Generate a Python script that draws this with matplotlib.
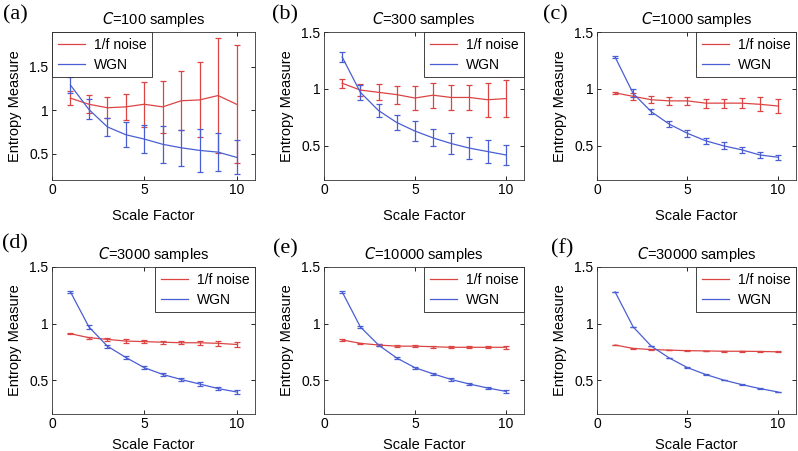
import matplotlib
matplotlib.use("Agg")
import matplotlib.pyplot as plt
import numpy as np

scale = np.arange(1, 11)
panel_labels = ["(a)", "(b)", "(c)", "(d)", "(e)", "(f)"]
sample_sizes = ["100", "300", "1000", "3000", "10000", "30000"]

pink_mean = [
    [1.14, 1.07, 1.03, 1.04, 1.07, 1.04, 1.11, 1.12, 1.17, 1.07],
    [1.05, 0.99, 0.97, 0.95, 0.92, 0.945, 0.925, 0.925, 0.905, 0.915],
    [0.965, 0.935, 0.905, 0.895, 0.895, 0.875, 0.875, 0.875, 0.865, 0.85],
    [0.91, 0.875, 0.86, 0.845, 0.84, 0.835, 0.83, 0.83, 0.825, 0.815],
    [0.855, 0.825, 0.81, 0.80, 0.80, 0.795, 0.79, 0.79, 0.79, 0.79],
    [0.81, 0.78, 0.77, 0.765, 0.76, 0.758, 0.755, 0.755, 0.753, 0.75],
]
pink_err = [
    [0.08, 0.105, 0.12, 0.15, 0.26, 0.30, 0.34, 0.43, 0.66, 0.68],
    [0.04, 0.05, 0.07, 0.08, 0.105, 0.11, 0.11, 0.11, 0.15, 0.16],
    [0.01, 0.03, 0.03, 0.035, 0.035, 0.04, 0.04, 0.045, 0.06, 0.06],
    [0.005, 0.01, 0.012, 0.015, 0.015, 0.015, 0.015, 0.02, 0.02, 0.025],
    [0.005, 0.006, 0.007, 0.008, 0.008, 0.008, 0.009, 0.01, 0.01, 0.012],
    [0.003, 0.003, 0.003, 0.003, 0.003, 0.003, 0.003, 0.003, 0.003, 0.003],
]
wgn_mean = [
    [1.29, 1.01, 0.81, 0.72, 0.67, 0.61, 0.57, 0.54, 0.52, 0.46],
    [1.28, 0.97, 0.81, 0.705, 0.63, 0.57, 0.52, 0.48, 0.45, 0.42],
    [1.28, 0.96, 0.80, 0.69, 0.61, 0.545, 0.50, 0.465, 0.42, 0.40],
    [1.28, 0.97, 0.80, 0.70, 0.61, 0.55, 0.505, 0.465, 0.425, 0.395],
    [1.28, 0.97, 0.81, 0.695, 0.61, 0.555, 0.505, 0.465, 0.43, 0.40],
    [1.28, 0.97, 0.80, 0.695, 0.61, 0.55, 0.50, 0.46, 0.425, 0.395],
]
wgn_err = [
    [0.09, 0.115, 0.105, 0.145, 0.165, 0.21, 0.21, 0.25, 0.215, 0.195],
    [0.04, 0.065, 0.06, 0.07, 0.085, 0.075, 0.095, 0.095, 0.10, 0.085],
    [0.01, 0.035, 0.02, 0.025, 0.03, 0.025, 0.03, 0.025, 0.025, 0.02],
    [0.008, 0.015, 0.012, 0.012, 0.012, 0.015, 0.012, 0.015, 0.015, 0.018],
    [0.006, 0.006, 0.007, 0.008, 0.01, 0.008, 0.01, 0.008, 0.01, 0.01],
    [0.003, 0.003, 0.003, 0.003, 0.003, 0.003, 0.003, 0.003, 0.003, 0.003],
]
series_names = ["1/f noise", "WGN"]
yticks = [0.5, 1, 1.5]
ytick_labels = ["0.5", "1", "1.5"]
xticks = [0, 5, 10]

plt.rcParams["font.family"] = ["Liberation Sans", "DejaVu Sans"]
RED = "#dc4444"
BLUE = "#4a5ed4"

fig = plt.figure(figsize=(7.98, 4.51), dpi=100)
lefts = [52, 324, 597]
widths = [203, 200, 199]
tops = [32, 267]
bottoms = [180, 414]
W, H = 798, 451
label_pos = [(3, 15), (272, 15), (543, 15), (2, 244), (273, 249), (551, 249)]

for i in range(6):
    r, c = divmod(i, 3)
    ax = fig.add_axes([lefts[c] / W, 1 - bottoms[r] / H, widths[c] / W, (bottoms[r] - tops[r]) / H])
    e1 = ax.errorbar(scale, pink_mean[i], yerr=pink_err[i], color=RED, lw=0.9,
                     elinewidth=0.9, capsize=2, capthick=0.9)
    e2 = ax.errorbar(scale, wgn_mean[i], yerr=wgn_err[i], color=BLUE, lw=0.9,
                     elinewidth=0.9, capsize=2, capthick=0.9)
    ax.set_xlim(0, 11)
    ax.set_ylim(0.2, 1.9 if i == 0 else 1.5)
    ax.set_xticks(xticks)
    ax.set_yticks(yticks)
    ax.set_yticklabels(ytick_labels)
    ax.tick_params(direction="in", top=True, right=True, labelsize=10, length=3, width=0.6, pad=2.5)
    for s in ax.spines.values():
        s.set_linewidth(0.6)
        s.set_color("#333333")
    ax.set_xlabel("Scale Factor", fontsize=10.5, labelpad=[8, 5][r])
    ax.set_ylabel("Entropy Measure", fontsize=10.5, labelpad=5)
    ax.set_title(r"$\it{C}$=" + sample_sizes[i] + " samples", fontsize=10.5, pad=6)
    leg = ax.legend([e1[0], e2[0]], series_names,
                    loc="upper left" if i == 0 else "upper right", fontsize=10,
                    frameon=True, fancybox=False, framealpha=1, edgecolor="#222222",
                    borderaxespad=0.0, handlelength=2.0, borderpad=0.4, labelspacing=0.45,
                    handletextpad=0.6)
    leg.get_frame().set_linewidth(0.6)
    lx, ly = label_pos[i]
    fig.text(lx / W, 1 - ly / H, panel_labels[i], fontsize=16, family="Liberation Serif",
             va="center", ha="left")

fig.savefig("out.png", dpi=100)
